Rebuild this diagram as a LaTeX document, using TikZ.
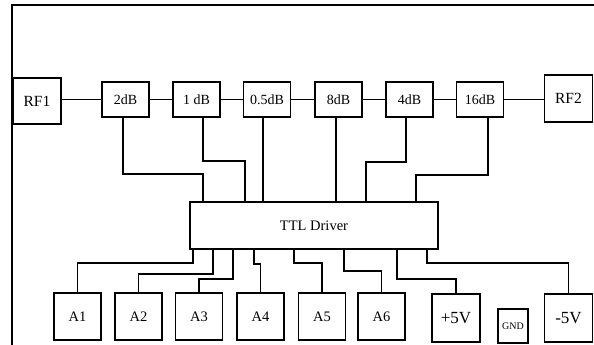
\documentclass[tikz,border=0pt]{standalone}
\usepackage{fontspec}
\setmainfont{Liberation Serif}
\usetikzlibrary{positioning,calc}

\tikzset{
  blk/.style={draw,line width=1.9pt,inner sep=0pt,align=center},
  attbox/.style={blk,minimum width=47pt,minimum height=35pt,font=\fontsize{14}{16}\selectfont},
  portbox/.style={blk,minimum width=48pt,minimum height=46.5pt,font=\fontsize{15.5}{17}\selectfont},
  addrbox/.style={blk,minimum width=47pt,minimum height=47pt,font=\fontsize{14.5}{16}\selectfont},
  pwrbox/.style={blk,minimum width=48pt,minimum height=48pt,font=\fontsize{17}{19}\selectfont},
  wire/.style={line width=1.9pt}
}

\begin{document}
\begin{tikzpicture}[x=1pt,y=-1pt]
\useasboundingbox (0,0) rectangle (594,345);
\draw[wire] (12,345) -- (12,5) -- (594,5);

% RF path
\node[portbox] (rf1) at (37,101) {RF1};
\node[attbox] (att1) at (125.5,99.5) {2dB};
\node[attbox] (att2) at (196.5,99.5) {1 dB};
\node[attbox] (att3) at (267,99.5) {0.5dB};
\node[attbox] (att4) at (338.5,99.5) {8dB};
\node[attbox] (att5) at (409.5,99.5) {4dB};
\node[attbox] (att6) at (480,99.5) {16dB};
\node[portbox,minimum height=47pt] (rf2) at (568.5,98.5) {RF2};

\draw[wire] (rf1.east |- att1.west) -- (att1.west);
\draw[wire] (att1) -- (att2);
\draw[wire] (att2) -- (att3);
\draw[wire] (att3) -- (att4);
\draw[wire] (att4) -- (att5);
\draw[wire] (att5) -- (att6);
\draw[wire] (att6.east) -- (att6.east -| rf2.west);

% driver
\node[blk,minimum width=248pt,minimum height=47pt,font=\fontsize{14.5}{16}\selectfont] (drv) at (314,225.5) {TTL Driver};

\draw[wire] ([xshift=-2.5pt]att1.south) -- ++(0,56) -| ([xshift=-111pt]drv.north);
\draw[wire] ([xshift=6.5pt]att2.south) -- ++(0,43) -| ([xshift=-69pt]drv.north);
\draw[wire] ([xshift=-4pt]att3.south) -- ([xshift=-51pt]drv.north);
\draw[wire] ([xshift=-2.5pt]att4.south) -- ([xshift=22pt]drv.north);
\draw[wire] ([xshift=-3.5pt]att5.south) -- ++(0,44) -| ([xshift=52pt]drv.north);
\draw[wire] ([xshift=8pt]att6.south) -- ++(0,57) -| ([xshift=102pt]drv.north);

% address and supply pins
\node[addrbox] (a1) at (77.5,316.5) {A1};
\node[addrbox] (a2) at (138.5,316.5) {A2};
\node[addrbox] (a3) at (199,316.5) {A3};
\node[addrbox] (a4) at (260.5,316.5) {A4};
\node[addrbox] (a5) at (322,316.5) {A5};
\node[addrbox] (a6) at (381.5,316.5) {A6};
\node[pwrbox] (vp) at (456,318) {+5V};
\node[blk,minimum width=30pt,minimum height=34pt,font=\fontsize{10}{12}\selectfont] (gnd) at (513,326) {GND};
\node[pwrbox] (vn) at (568.5,318) {-5V};

\draw[wire] ([xshift=-121pt]drv.south) -- ++(0,13) -| (a1.north);
\draw[wire] ([xshift=-101pt]drv.south) -- ++(0,24) -| (a2.north);
\draw[wire] ([xshift=-81pt]drv.south) -- ++(0,29) -| (a3.north);
\draw[wire] ([xshift=-60pt]drv.south) -- ++(0,14) -| (a4.north);
\draw[wire] ([xshift=-20pt]drv.south) -- ++(0,13) -| (a5.north);
\draw[wire] ([xshift=30pt]drv.south) -- ++(0,21) -| (a6.north);
\draw[wire] ([xshift=83pt]drv.south) -- ++(0,29) -| (vp.north);
\draw[wire] ([xshift=113pt]drv.south) -- ++(0,13) -| (vn.north);
\end{tikzpicture}
\end{document}
